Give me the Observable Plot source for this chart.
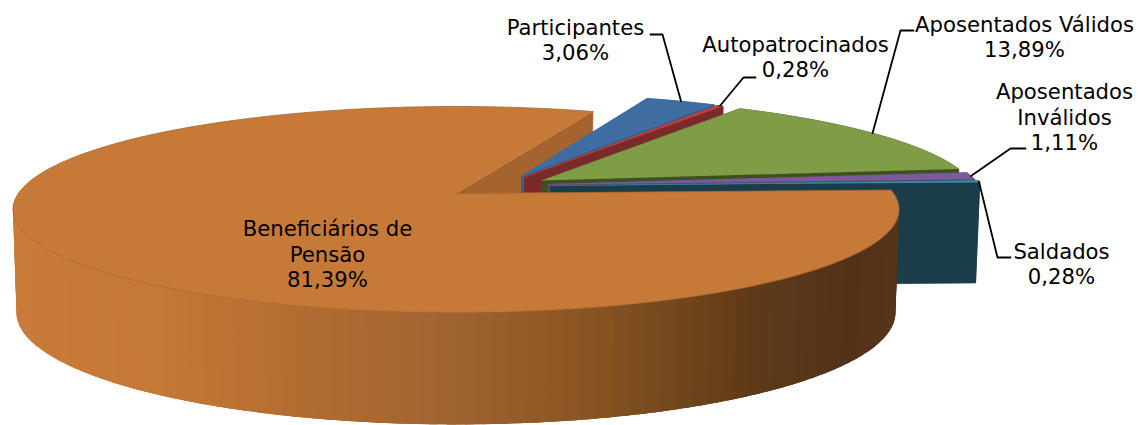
<!DOCTYPE html>
<html>
<head>
<meta charset="utf-8">
<script src="https://cdn.jsdelivr.net/npm/d3@7"></script>
<script src="https://cdn.jsdelivr.net/npm/@observablehq/plot@0.6"></script>
<style>html,body{margin:0;padding:0;background:#fff;overflow:hidden}</style>
</head>
<body>
<div id="chart"></div>
<script>
// --- data ---
const categories = ["Participantes", "Autopatrocinados", "Aposentados Válidos", "Aposentados\nInválidos", "Saldados", "Beneficiários de\nPensão"];
const values = [3.06, 0.28, 13.89, 1.11, 0.28, 81.39];

// --- styling ---
const topColors  = ["#3f6ca1", "#b7443f", "#7f9c47", "#7a5b9a", "#3a8ea8", "#c77a37"];
const sideColors = ["#2f6496", "#7b2a2a", "#3f5020", "#5f4678", "#1b3d4a", "#a5642f"];
const wallStops = [[12,"#c97b39"],[150,"#c57937"],[300,"#b26c31"],[450,"#a06431"],[600,"#865320"],[750,"#5f3a18"],[850,"#53321a"],[900,"#55341a"]];

// --- layout: perspective model of the 3D pie ---
const startAngle = 21;
const view = {ax: 455.5, ay: 193, A: 437.7, B: 100.5, k: 0.155, depth: 101.5, sx: 0.992, sy: 1.088};
const explodeX = [0.153, 0.160, 0.201, 0.213, 0.218, 0];
const explodeY = [0.174, 0.166, 0.132, 0.092, 0.078, 0];
const labelAt  = [[575,39],[795,56],[1024,36],[1064,116],[1061,263],[327,253]];
const lineHeights = 1.2;
const leaderVia = [
  [[650,34],[662,34]],
  [[755,77],[743,77]],
  [[913,30],[900,30]],
  [[1025,148],[1010,148]],
  [[1010,257],[997,257]]
];

const rad = d => d * Math.PI / 180;
function proj(X, Y, low) {
  const w = 1 + view.k * Y;
  return low
    ? {x: view.ax + view.sx * view.A * X / w, y: view.ay + view.depth - view.sy * view.B * Y / w}
    : {x: view.ax + view.A * X / w, y: view.ay - view.B * Y / w};
}
const total = d3.sum(values);
let acc = startAngle;
const slices = values.map((v, i) => {
  const a0 = acc, a1 = acc + v / total * 360;
  acc = a1;
  return {i, a0, a1, ox: explodeX[i], oy: explodeY[i]};
});
const arcPt = (s, a, low) => proj(s.ox + Math.sin(rad(a)), s.oy + Math.cos(rad(a)), low);
const apexPt = (s, low) => proj(s.ox, s.oy, low);
const arcAngles = (a0, a1) => {
  const n = Math.max(2, Math.ceil((a1 - a0) / 1.5));
  return d3.range(n + 1).map(j => a0 + (a1 - a0) * j / n);
};

let pid = 0;
function rows(points, fill, stroke) {
  const id = pid++;
  return points.map(p => ({id, x: p.x, y: p.y, fill, stroke: stroke || fill}));
}
const topFace = (s, stroke) => rows(
  [apexPt(s, false), ...arcAngles(s.a0, s.a1).map(a => arcPt(s, a, false))], topColors[s.i], stroke);
const cutFace = (s, a, color) => rows(
  [apexPt(s, false), arcPt(s, a, false), arcPt(s, a, true), apexPt(s, true)], color);
const outerFace = (s, a0, a1, color) => {
  const as = arcAngles(a0, a1);
  return rows([...as.map(a => arcPt(s, a, false)), ...as.slice().reverse().map(a => arcPt(s, a, true))], color);
};

const main = slices[5];
const wallColor = d3.scaleLinear().domain(wallStops.map(d => d[0])).range(wallStops.map(d => d[1])).clamp(true);

// back cut face of the large slice
const backRows = cutFace(main, main.a1, sideColors[5]);

// detached slices, back to front
const sliceRows = [];
for (const s of slices.slice(0, 5)) {
  sliceRows.push(...cutFace(s, s.a0, sideColors[s.i]));
  sliceRows.push(...outerFace(s, s.a0, s.a1, sideColors[s.i]));
  sliceRows.push(...cutFace(s, s.a1, sideColors[s.i]));
  sliceRows.push(...topFace(s, topColors[s.i]));
}

// outer wall of the large slice: overlapping bands shaded along the rim
const wallRows = [];
const wallAngles = d3.range(main.a0, 264, 2);
wallAngles.forEach(a => {
  const m = arcPt(main, a + 1, false);
  wallRows.push(...outerFace(main, a, Math.min(a + 5, 264), wallColor(m.x)));
});

const topRows = topFace(main, "#a9662e");

// leader lines: from each slice's rim to the label
const leaderRows = [];
leaderVia.forEach((via, i) => {
  const s = slices[i];
  const rim = arcPt(s, (s.a0 + s.a1) / 2, false);
  [{x: via[0][0], y: via[0][1]}, {x: via[1][0], y: via[1][1]}, rim].forEach(p => leaderRows.push({id: i, x: p.x, y: p.y}));
});

const fmt = v => d3.format(".2f")(v).replace(".", ",") + "%";
const labels = categories.map((c, i) => ({text: c + "\n" + fmt(values[i]), x: labelAt[i][0], y: labelAt[i][1]}));

const poly = (data, strokeWidth) => Plot.line(data, {
  x: "x", y: "y", z: "id", fill: "fill", stroke: "stroke", strokeWidth, curve: "linear", strokeLinejoin: "round"
});

const plot = Plot.plot({
  width: 1140,
  height: 425,
  margin: 0,
  style: {background: "#fff"},
  x: {domain: [0, 1140], range: [0, 1140], axis: null},
  y: {domain: [0, 425], range: [0, 425], axis: null},
  color: {type: "identity"},
  marks: [
    poly(backRows, 0.5),
    poly(sliceRows, 0.7),
    poly(wallRows, 0),
    poly(topRows, 0.8),
    Plot.line(leaderRows, {x: "x", y: "y", z: "id", stroke: "#000", strokeWidth: 1.8, curve: "linear"}),
    Plot.text(labels, {
      x: "x", y: "y", text: "text", fontSize: 21.2, fontFamily: "DejaVu Sans",
      fill: "#000", lineHeight: lineHeights, textAnchor: "middle"
    })
  ]
});
document.getElementById("chart").appendChild(plot);
</script>
</body>
</html>
